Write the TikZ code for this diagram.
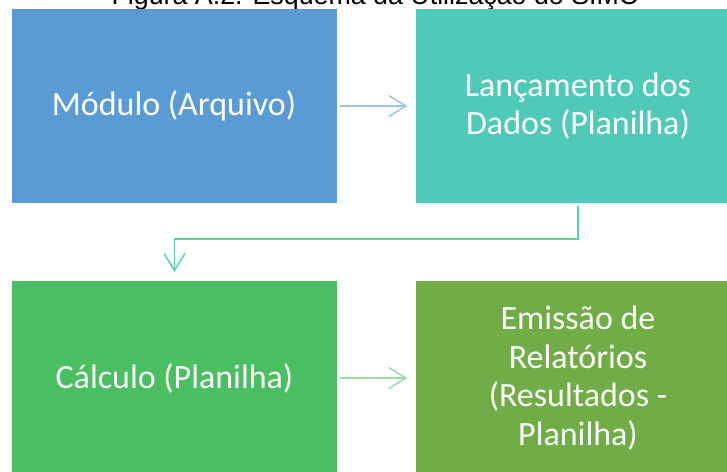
\documentclass[tikz,border=0pt]{standalone}
\usepackage{fontspec}
\setmainfont{Carlito}
\newfontfamily\capfont{Liberation Sans}
\usetikzlibrary{arrows.meta}
\definecolor{modblue}{HTML}{5B9BD5}
\definecolor{lancteal}{HTML}{50CAB8}
\definecolor{calcgreen}{HTML}{4ABF62}
\definecolor{emisgreen}{HTML}{70AD47}
\definecolor{arrblue}{HTML}{9DC3E6}
\definecolor{arrteal}{HTML}{5CD4A0}
\definecolor{arrgreen}{HTML}{9FD9A9}
\begin{document}
\begin{tikzpicture}[x=1pt,y=-1pt,
    stepbox/.style={fill=#1,minimum width=325pt,minimum height=194pt,
      inner sep=0pt,text=white,align=center,
      font=\fontsize{34}{38.5}\selectfont},
    flow/.style={draw=#1,line width=1.5pt,
      -{Straight Barb[length=17pt,width=21pt,line width=1.5pt]}}]
      \useasboundingbox (0,0) rectangle (727,471);
      \node[font=\capfont\fontsize{26.8}{30}\selectfont,anchor=base]
        (cap) at (375,4.8) {Figura A.2. Esquema da Utilização do SIMC};
      \node[stepbox=modblue] (mod) at (174,106) {Módulo (Arquivo)};
      \node[stepbox=lancteal] (lanc) at (578,106) {Lançamento dos\\Dados (Planilha)};
      \node[stepbox=calcgreen] (calc) at (174.5,378) {Cálculo (Planilha)};
      \node[stepbox=emisgreen] (emis) at (578,378)
        {Emissão de\\Relatórios\\(Resultados -\\Planilha)};
      \begin{scope}[shorten <=3pt]
        \draw[flow=arrblue,shorten >=8pt] (mod) -- (lanc);
        \draw[flow=arrteal,shorten >=9pt] (lanc.south) -- ++(0,36) -| (calc.north);
        \draw[flow=arrgreen,shorten >=8pt] (calc) -- (emis);
      \end{scope}
    \end{tikzpicture}
\end{document}
